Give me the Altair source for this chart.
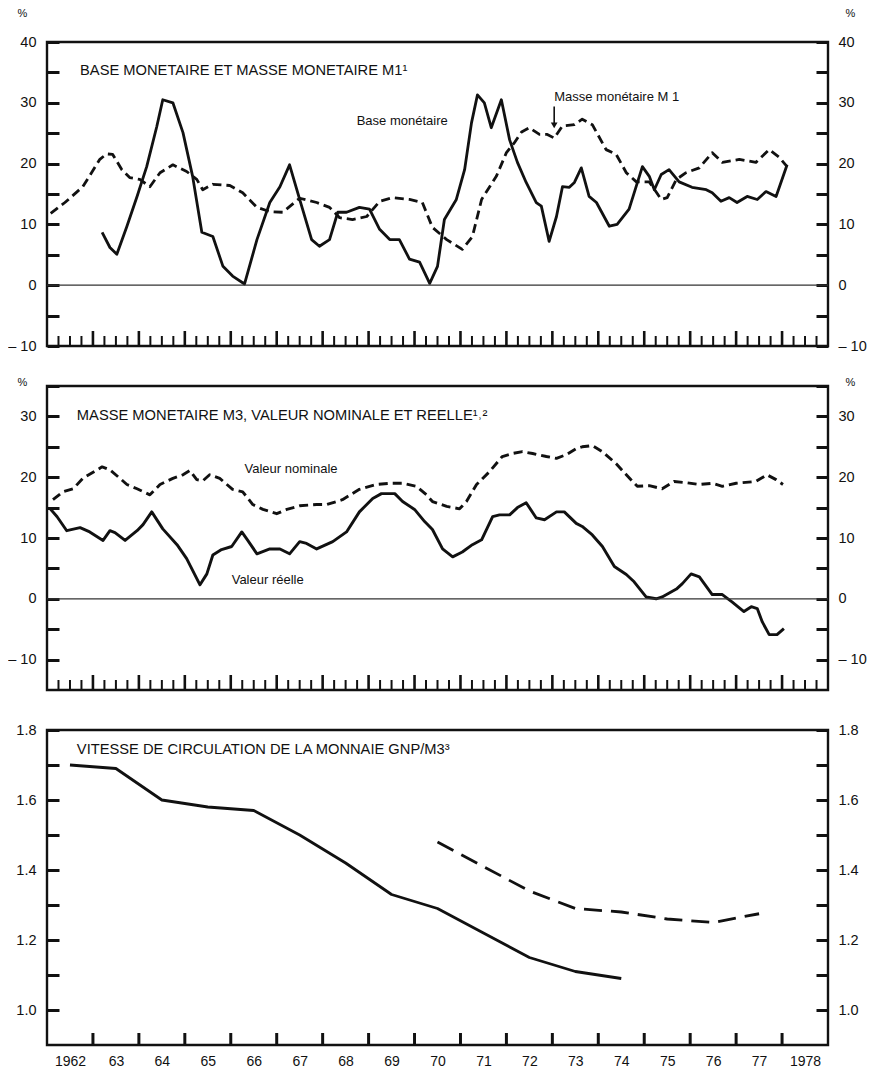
import altair as alt
import pandas as pd

# ---------------- Panel 1 : base monétaire et masse monétaire M1 (%)
m1_t = [1962.08, 1962.39, 1962.78, 1963.15, 1963.30, 1963.43, 1963.63, 1963.80, 1964.02, 1964.24,
        1964.46, 1964.74, 1965.04, 1965.26, 1965.39, 1965.61, 1965.98, 1966.26, 1966.57, 1966.85,
        1967.13, 1967.50, 1967.87, 1968.15, 1968.37, 1968.65, 1968.96, 1969.24, 1969.52, 1969.89,
        1970.17, 1970.39, 1970.70, 1971.04, 1971.26, 1971.46, 1971.78, 1972.00, 1972.17, 1972.33,
        1972.50, 1972.72, 1972.89, 1973.04, 1973.22, 1973.48, 1973.65, 1973.87, 1974.17, 1974.39,
        1974.61, 1974.83, 1975.11, 1975.37, 1975.50, 1975.70, 1975.91, 1976.20, 1976.48, 1976.70,
        1977.07, 1977.43, 1977.72, 1977.93, 1978.11]
m1_v = [11.8, 13.6, 16.2, 20.7, 21.6, 21.5, 19.0, 17.7, 17.4, 16.2,
        18.5, 19.8, 18.7, 17.4, 15.7, 16.6, 16.4, 15.2, 12.8, 12.1,
        12.0, 14.3, 13.6, 12.8, 11.1, 10.8, 11.3, 13.8, 14.4, 14.1,
        13.6, 9.5, 7.5, 5.9, 8.0, 14.1, 17.9, 21.8, 23.4, 25.2,
        25.9, 24.8, 24.8, 24.2, 26.2, 26.4, 27.3, 26.4, 22.3, 21.5,
        18.5, 17.0, 17.0, 14.1, 14.4, 17.4, 18.5, 19.3, 21.8, 20.2,
        20.7, 20.2, 22.3, 21.1, 19.5]

base_t = [1963.20, 1963.37, 1963.52, 1963.74, 1963.96, 1964.17, 1964.39, 1964.52, 1964.74, 1964.96,
          1965.17, 1965.37, 1965.61, 1965.83, 1966.04, 1966.30, 1966.57, 1966.85, 1967.07, 1967.28,
          1967.50, 1967.76, 1967.93, 1968.15, 1968.33, 1968.52, 1968.80, 1969.02, 1969.24, 1969.46,
          1969.67, 1969.89, 1970.11, 1970.33, 1970.50, 1970.65, 1970.91, 1971.09, 1971.24, 1971.37,
          1971.52, 1971.67, 1971.89, 1972.07, 1972.24, 1972.43, 1972.65, 1972.76, 1972.93, 1973.09,
          1973.22, 1973.37, 1973.48, 1973.63, 1973.80, 1973.96, 1974.24, 1974.41, 1974.67, 1974.96,
          1975.11, 1975.22, 1975.37, 1975.54, 1975.76, 1976.04, 1976.35, 1976.48, 1976.67, 1976.85,
          1977.02, 1977.24, 1977.46, 1977.65, 1977.87, 1978.11]
base_v = [8.7, 6.2, 5.1, 9.7, 14.6, 19.5, 26.1, 30.5, 30.0, 25.1,
          17.9, 8.7, 8.0, 3.1, 1.5, 0.2, 7.5, 13.6, 16.2, 19.8,
          14.1, 7.5, 6.4, 7.5, 12.0, 12.0, 12.8, 12.5, 9.2, 7.5,
          7.5, 4.3, 3.8, 0.3, 3.1, 10.8, 14.1, 19.0, 26.7, 31.3,
          30.0, 25.9, 30.5, 23.9, 20.2, 16.9, 13.6, 13.0, 7.2, 11.3,
          16.2, 16.1, 16.9, 19.3, 14.6, 13.6, 9.7, 10.0, 12.5, 19.5,
          17.9, 15.7, 18.2, 19.0, 17.0, 16.1, 15.7, 15.2, 13.8, 14.4,
          13.6, 14.6, 14.1, 15.4, 14.6, 19.8]

# ---------------- Panel 2 : masse monétaire M3, valeur nominale et réelle (%)
nom_t = [1962.13, 1962.35, 1962.57, 1962.78, 1963.20, 1963.37, 1963.59, 1963.74, 1963.96, 1964.24,
         1964.46, 1964.74, 1964.96, 1965.11, 1965.26, 1965.39, 1965.54, 1965.76, 1966.04, 1966.26,
         1966.48, 1966.70, 1967.00, 1967.22, 1967.50, 1967.87, 1968.09, 1968.43, 1968.80, 1969.17,
         1969.46, 1969.74, 1970.04, 1970.26, 1970.39, 1970.70, 1970.98, 1971.13, 1971.35, 1971.63,
         1971.91, 1972.13, 1972.35, 1972.57, 1972.87, 1973.09, 1973.30, 1973.52, 1973.65, 1973.87,
         1974.09, 1974.39, 1974.61, 1974.85, 1975.11, 1975.39, 1975.65, 1975.91, 1976.20, 1976.48,
         1976.70, 1977.00, 1977.43, 1977.67, 1977.87, 1978.02]
nom_v = [16.3, 17.6, 18.1, 19.8, 21.7, 21.2, 19.8, 18.8, 18.1, 17.1,
         18.8, 19.8, 20.4, 21.1, 19.6, 19.4, 20.4, 19.8, 18.0, 17.6,
         15.5, 14.7, 14.0, 14.7, 15.3, 15.5, 15.5, 16.3, 18.0, 18.8,
         19.0, 19.0, 18.5, 17.1, 16.0, 15.2, 14.8, 16.0, 18.8, 20.9,
         23.4, 23.9, 24.2, 23.9, 23.4, 23.1, 23.7, 24.7, 25.0, 25.2,
         24.2, 22.2, 20.4, 18.5, 18.6, 18.1, 19.3, 19.1, 18.8, 19.0,
         18.5, 19.0, 19.3, 20.4, 19.6, 18.8]

reel_t = [1962.07, 1962.22, 1962.43, 1962.72, 1962.93, 1963.22, 1963.37, 1963.48, 1963.70, 1963.96,
          1964.09, 1964.28, 1964.52, 1964.83, 1965.04, 1965.33, 1965.48, 1965.61, 1965.80, 1966.02,
          1966.24, 1966.37, 1966.57, 1966.85, 1967.07, 1967.28, 1967.50, 1967.65, 1967.87, 1968.22,
          1968.52, 1968.80, 1969.09, 1969.28, 1969.57, 1969.74, 1970.00, 1970.22, 1970.39, 1970.61,
          1970.83, 1971.04, 1971.26, 1971.46, 1971.70, 1971.85, 1972.07, 1972.24, 1972.43, 1972.65,
          1972.83, 1973.09, 1973.26, 1973.52, 1973.65, 1973.87, 1974.09, 1974.35, 1974.61, 1974.78,
          1975.04, 1975.26, 1975.39, 1975.70, 1975.83, 1976.02, 1976.20, 1976.48, 1976.70, 1976.91,
          1977.17, 1977.33, 1977.46, 1977.57, 1977.72, 1977.89, 1978.04]
reel_v = [14.8, 13.5, 11.2, 11.7, 11.0, 9.6, 11.2, 10.9, 9.6, 11.2,
          12.2, 14.3, 11.5, 8.9, 6.6, 2.3, 4.1, 7.2, 8.1, 8.6,
          11.0, 9.6, 7.4, 8.2, 8.2, 7.4, 9.4, 9.1, 8.2, 9.4,
          11.0, 14.3, 16.5, 17.3, 17.3, 16.0, 14.7, 12.7, 11.4, 8.2,
          6.9, 7.7, 8.9, 9.7, 13.5, 13.8, 13.8, 15.0, 15.8, 13.3,
          13.0, 14.3, 14.3, 12.4, 11.9, 10.5, 8.6, 5.3, 4.0, 2.8,
          0.3, 0.0, 0.3, 1.6, 2.5, 4.1, 3.6, 0.7, 0.7, -0.5,
          -2.1, -1.3, -1.6, -3.8, -5.9, -5.9, -4.9]

# ---------------- Panel 3 : vitesse de circulation GNP/M3
vel_t = [1962.5, 1963.5, 1964.5, 1965.5, 1966.5, 1967.5, 1968.5, 1969.5, 1970.5, 1971.5,
         1972.5, 1973.5, 1974.5]
vel_v = [1.70, 1.69, 1.60, 1.58, 1.57, 1.50, 1.42, 1.33, 1.29, 1.22, 1.15, 1.11, 1.09]
vel2_t = [1970.5, 1971.5, 1972.5, 1973.5, 1974.5, 1975.5, 1976.5, 1977.5]
vel2_v = [1.48, 1.41, 1.34, 1.29, 1.28, 1.26, 1.25, 1.275]

# ---------------- Texts
titles = ["BASE MONETAIRE ET MASSE MONETAIRE M1¹",
          "MASSE MONETAIRE M3, VALEUR NOMINALE ET REELLE¹˒²",
          "VITESSE DE CIRCULATION DE LA MONNAIE GNP/M3³"]
title_t = [1962.72, 1962.65, 1962.65]
title_v = [35.2, 30.0, 1.743]

p1_note_txt = ["Base monétaire", "Masse monétaire M 1"]
p1_note_t = [1968.74, 1973.04]
p1_note_v = [27.0, 31.0]
arrow_t = [1973.04]
arrow_from = [29.4]
arrow_to = [26.3]

p2_note_txt = ["Valeur nominale", "Valeur réelle"]
p2_note_t = [1966.30, 1966.02]
p2_note_v = [21.3, 3.1]

x_domain = [1962, 1979]
year_labels_at = [y + 0.5 for y in range(1962, 1979)]
year_ticks = list(range(1963, 1979))
quarter_ticks = [y + q / 4 for y in range(1962, 1979) for q in (1, 2, 3)]

p1_yticks = [-10, -5, 0, 5, 10, 15, 20, 25, 30, 35, 40]
p2_yticks = [-10, -5, 0, 5, 10, 15, 20, 25, 30, 35]
p3_yticks = [1.0, 1.1, 1.2, 1.3, 1.4, 1.5, 1.6, 1.7, 1.8]

FONT = "Liberation Sans, Arial, sans-serif"
INK = "#111111"
W = 781

XS = alt.Scale(domain=x_domain, nice=False, zero=False)

PCT_EXPR = "datum.value % 10 == 0 ? (datum.value < 0 ? '– ' + abs(datum.value) : datum.label) : ''"
VEL_EXPR = "round(datum.value * 10) % 2 == 0 ? format(datum.value, '.1f') : ''"
YEAR_EXPR = ("floor(datum.value) == 1962 || floor(datum.value) == 1978 ? '' + floor(datum.value)"
             " : substring('' + floor(datum.value), 2)")


def yaxis(orient, values, expr, title=None, tx=0, ty=0):
    props = dict(orient=orient, values=values, labelExpr=expr, tickSize=12, tickWidth=3,
                 tickColor=INK, offset=-12, domain=False, grid=False, labelFont=FONT,
                 labelFontSize=14.5, labelColor=INK,
                 labelPadding=11 if orient == 'left' else 10,
                 labelAlign='right' if orient == 'left' else 'left', labelBaseline='middle',
                 labelFlush=False, labelOverlap=False, title=title)
    if title:
        props.update(titleAngle=0, titleX=tx, titleY=ty, titleFont=FONT, titleFontSize=11,
                     titleFontWeight='normal', titleColor=INK, titleAlign='center',
                     titleBaseline='middle')
    return alt.Axis(**props)


def df(t, v, **extra):
    d = {'t': t, 'v': v}
    d.update(extra)
    return pd.DataFrame(d)


def panel(ydom, yticks, lexpr, height, series, title_i, notes=None, zero=True, pct_ty=None,
          xaxis=None, strip='quarters'):
    YS = alt.Scale(domain=ydom, nice=False, zero=False)
    left = yaxis('left', yticks, lexpr, '%' if pct_ty is not None else None, -37, pct_ty or 0)
    right = yaxis('right', yticks, lexpr, '%' if pct_ty is not None else None, 34, pct_ty or 0)

    def X():
        return alt.X('t:Q', scale=XS, axis=xaxis)

    def Y():
        return alt.Y('v:Q', scale=YS, axis=left)

    one = pd.DataFrame({'z': [0]})
    layers = []
    # frame of the panel (domain box)
    layers.append(alt.Chart(one).mark_rect(filled=False, color=INK, strokeWidth=2.4).encode(
        x=alt.XDatum(x_domain[0], scale=XS, axis=xaxis), x2=alt.X2Datum(x_domain[1]),
        y=alt.YDatum(ydom[0], scale=YS, axis=left), y2=alt.Y2Datum(ydom[1])))

    for (t, v, dash, sw) in series:
        mk = dict(color=INK, strokeWidth=sw, strokeJoin='round')
        if dash:
            mk['strokeDash'] = dash
        layers.append(alt.Chart(df(t, v)).mark_line(**mk).encode(x=X(), y=Y()))

    # x tick strip along the bottom edge
    lo = ydom[0]
    if strip == 'quarters':
        layers.append(alt.Chart(pd.DataFrame({'t': year_ticks})).mark_tick(
            orient='vertical', size=15, thickness=2.6, yOffset=-7.5, color=INK, opacity=1).encode(
            x=X(), y=alt.YDatum(lo, scale=YS, axis=left)))
        layers.append(alt.Chart(pd.DataFrame({'t': quarter_ticks})).mark_tick(
            orient='vertical', size=10, thickness=2.0, yOffset=-5, color=INK, opacity=1).encode(
            x=X(), y=alt.YDatum(lo, scale=YS, axis=left)))
    else:
        layers.append(alt.Chart(pd.DataFrame({'t': year_ticks})).mark_tick(
            orient='vertical', size=12, thickness=3, yOffset=-6, color=INK, opacity=1).encode(
            x=X(), y=alt.YDatum(lo, scale=YS, axis=left)))

    # panel title
    layers.append(alt.Chart(df([title_t[title_i]], [title_v[title_i]], txt=[titles[title_i]])).mark_text(
        align='left', baseline='middle', font=FONT, fontSize=14.7, color=INK).encode(
        x=X(), y=Y(), text='txt:N'))

    if notes is not None:
        nt, nv, ntxt = notes
        layers.append(alt.Chart(df(nt, nv, txt=ntxt)).mark_text(
            align='left', baseline='middle', font=FONT, fontSize=13, color=INK).encode(
            x=X(), y=Y(), text='txt:N'))

    if title_i == 0:
        layers.append(alt.Chart(df(arrow_t, arrow_from, v2=arrow_to)).mark_rule(
            color=INK, strokeWidth=1.6).encode(x=X(), y=Y(), y2='v2:Q'))
        layers.append(alt.Chart(df(arrow_t, arrow_to)).mark_point(
            shape='triangle-down', filled=True, size=45, color=INK, opacity=1).encode(x=X(), y=Y()))

    inner = alt.layer(*layers)

    if zero:
        rl = alt.Chart(one).mark_rule(color='#333333', strokeWidth=1.3).encode(
            y=alt.YDatum(0, scale=YS, axis=right))
    else:
        rl = alt.Chart(one).mark_rule(strokeOpacity=0).encode(
            y=alt.YDatum(ydom[1], scale=YS, axis=right))

    return alt.layer(inner, rl).resolve_axis(y='independent').properties(width=W, height=height)


p1 = panel([-10, 40], p1_yticks, PCT_EXPR, 304,
           [(m1_t, m1_v, [9, 5], 2.8), (base_t, base_v, None, 2.8)], 0,
           notes=(p1_note_t, p1_note_v, p1_note_txt), pct_ty=-29)
p2 = panel([-15, 35], p2_yticks, PCT_EXPR, 304,
           [(nom_t, nom_v, [9, 5], 2.9), (reel_t, reel_v, None, 2.9)], 1,
           notes=(p2_note_t, p2_note_v, p2_note_txt), pct_ty=-4)
xa3 = alt.Axis(values=year_labels_at, labelExpr=YEAR_EXPR, ticks=False, domain=False, grid=False,
               labelFont=FONT, labelFontSize=14, labelColor=INK, labelPadding=9,
               labelFlush=False, labelOverlap=False, title=None)
p3 = panel([0.9, 1.8], p3_yticks, VEL_EXPR, 315,
           [(vel_t, vel_v, None, 2.8), (vel2_t, vel2_v, [18, 9], 2.8)], 2,
           zero=False, xaxis=xa3, strip='years')

chart = alt.vconcat(p1, p2, p3, spacing=40, bounds='flush').properties(
    autosize=alt.AutoSizeParams(type='none'),
    padding={'left': 39, 'top': 34, 'right': 39, 'bottom': 1026}
).configure_view(strokeWidth=0).configure(background='white', font=FONT)

chart.save("out.html", embed_options={"renderer": "svg", "actions": False})
